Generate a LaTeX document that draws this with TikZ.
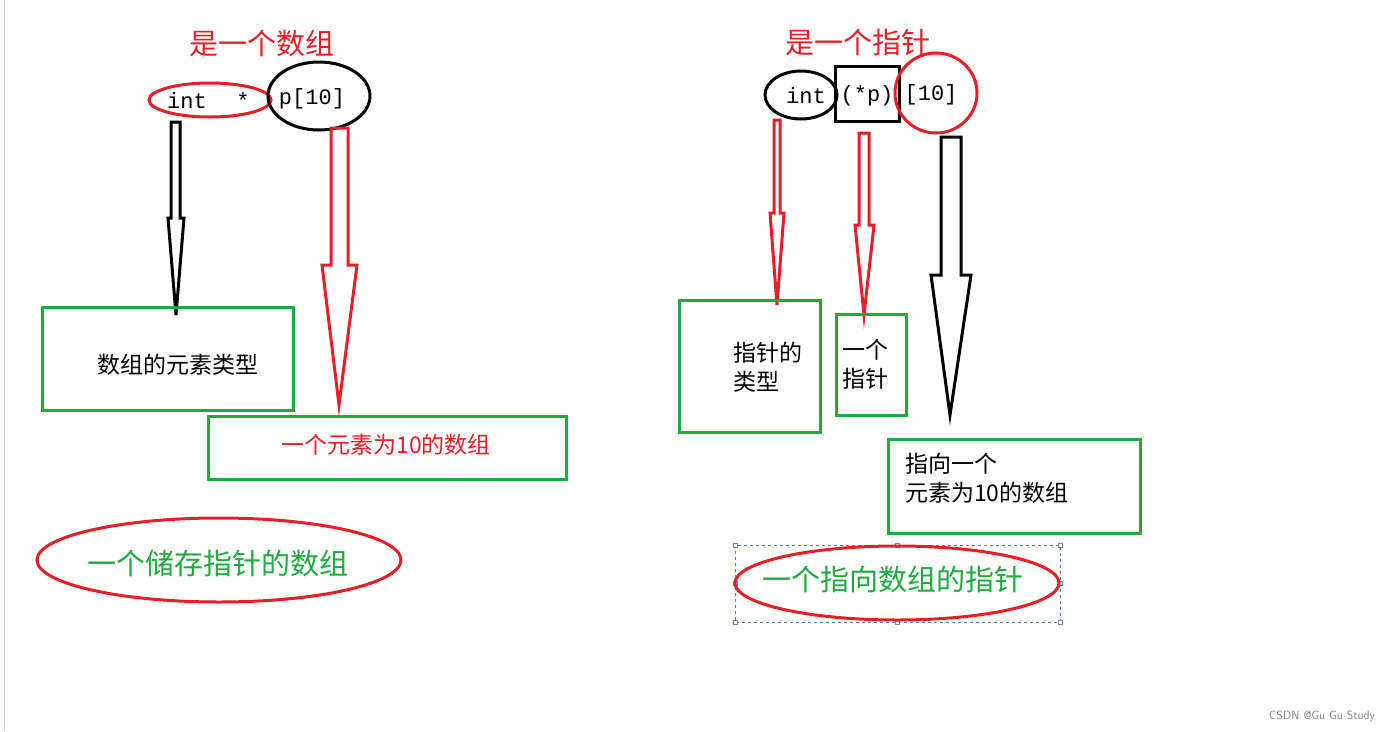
\documentclass[tikz,border=0pt]{standalone}
\usepackage{fontspec}
\setmainfont{Liberation Serif}
\newfontfamily\cjk{Noto Sans CJK SC}
\newfontfamily\codef{Liberation Mono}
\definecolor{rd}{RGB}{230,30,40}
\definecolor{gr}{RGB}{30,170,60}
\definecolor{bl}{RGB}{60,130,200}
\begin{document}
\begin{tikzpicture}[x=1pt,y=-1pt,
  gbox/.style={draw=gr,line width=3pt},
  redov/.style={draw=rd,line width=3pt},
  blkov/.style={draw=black,line width=3pt},
  arr/.style={line width=3pt,line join=miter},
  tx/.style={font=\cjk\fontsize{23}{29}\selectfont,align=left,inner sep=0pt},
  big/.style={font=\cjk\fontsize{29}{34}\selectfont,inner sep=0pt},
  code/.style={font=\codef\fontsize{22}{26}\selectfont,inner sep=0pt}]
\useasboundingbox (0,0) rectangle (1400,731);
\fill[white] (0,0) rectangle (1400,731);
\draw[gray!40,line width=1pt] (4,0) -- (4,731);
% left
\node[big,text=rd] (t1) at (262,44) {是一个数组};
\draw[redov] (210,100) ellipse [x radius=61,y radius=17];
\draw[blkov] (319,96) ellipse [x radius=51,y radius=34];
\node[code] (i1) at (187,101) {int};
\node[code] (s1) at (243,101) {*};
\node[code] (p1) at (312,99) {p[10]};
\draw[arr,black] (171,122) -- (180,122) -- (180,218) -- (184,218) -- (176,315) -- (168,218) -- (171,218) -- cycle;
\draw[arr,rd] (331,128) -- (348,128) -- (348,265) -- (357,265) -- (339,405) -- (322,265) -- (331,265) -- cycle;
\draw[gbox] (42,307) rectangle (293,410);
\node[tx] (b1) at (178,365) {数组的元素类型};
\draw[gbox] (208,416) rectangle (566,479);
\node[tx,text=rd] (b2) at (386,445) {一个元素为10的数组};
\draw[redov] (219,560) ellipse [x radius=182,y radius=42];
\node[big,text=gr] (e1) at (218,563) {一个储存指针的数组};
% right
\node[big,text=rd] (t2) at (858,42) {是一个指针};
\draw[blkov] (801,95) ellipse [x radius=36,y radius=24];
\draw[line width=3pt] (835,66) rectangle (899,121);
\draw[redov] (936,93) ellipse [x radius=41,y radius=40];
\node[code] (i2) at (806,96) {int};
\node[code] (p2) at (867,96) {(*p)};
\node[code] (n2) at (931,95) {[10]};
\draw[arr,rd] (774,120) -- (780,120) -- (780,213) -- (784,213) -- (777,305) -- (770,213) -- (774,213) -- cycle;
\draw[arr,rd] (859,133) -- (869,133) -- (869,225) -- (874,225) -- (864,315) -- (855,225) -- (859,225) -- cycle;
\draw[arr,black] (941,137) -- (961,137) -- (961,275) -- (971,275) -- (950,415) -- (931,275) -- (941,275) -- cycle;
\draw[gbox] (679,300) rectangle (820,432);
\node[tx,anchor=west] (b3) at (733,367) {指针的\\类型};
\draw[gbox] (836,314) rectangle (906,415);
\node[tx,anchor=west] (b4) at (842,364) {一个\\指针};
\draw[gbox] (888,439) rectangle (1140,533);
\node[tx,anchor=west] (b5) at (905,478) {指向一个\\元素为10的数组};
\draw[bl,dashed,line width=0.6pt] (735,545) rectangle (1060,622);
\foreach \p in {(735,545),(897,545),(1060,545),(735,583),(1060,583),(735,622),(897,622),(1060,622)}
  \draw[gray,fill=white,line width=0.5pt] \p ++(-2,-2) rectangle ++(4,4);
\draw[redov] (897,583) ellipse [x radius=162,y radius=37];
\node[big,text=gr] (e2) at (893,579) {一个指向数组的指针};
\node[font=\fontsize{12}{14}\selectfont\sffamily,text=gray,inner sep=0pt] (wm) at (1322,716) {CSDN @Gu Gu Study};
\end{tikzpicture}
\end{document}
